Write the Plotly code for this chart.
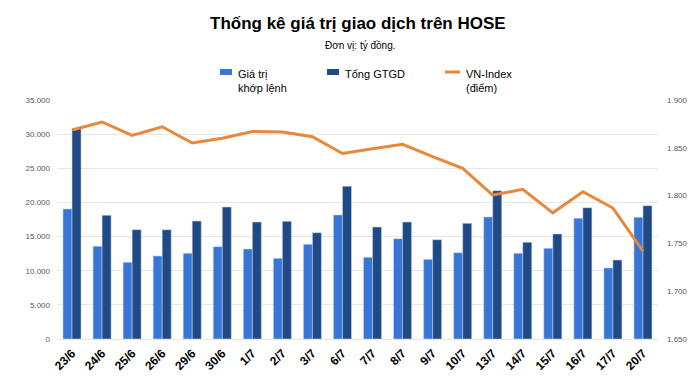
import plotly.graph_objects as go

dates = ["23/6", "24/6", "25/6", "26/6", "29/6", "30/6", "1/7", "2/7", "3/7", "6/7",
         "7/7", "8/7", "9/7", "10/7", "13/7", "14/7", "15/7", "16/7", "17/7", "20/7"]
gia_tri_khop_lenh = [19040, 13580, 11230, 12160, 12550, 13520, 13180, 11810, 13860, 18160,
                     11960, 14690, 11670, 12640, 17870, 12550, 13280, 17670, 10400, 17820]
tong_gtgd = [30850, 18120, 16010, 16000, 17280, 19330, 17130, 17230, 15570, 22360,
             16400, 17130, 14540, 16940, 21720, 14160, 15380, 19230, 11570, 19520]
vn_index = [1868.6, 1877.0, 1863.0, 1872.0, 1855.0, 1860.0, 1867.0, 1866.5, 1861.6, 1844.0,
            1849.0, 1853.6, 1840.7, 1828.5, 1800.6, 1806.5, 1782.0, 1804.0, 1787.0, 1742.0]

left_ticks = [0, 5000, 10000, 15000, 20000, 25000, 30000, 35000]
right_ticks = [1650, 1700, 1750, 1800, 1850, 1900]

LIGHT = "#3775D6"
DARK = "#1F4A85"
ORANGE = "#E8883A"
FONT = "Liberation Sans"

W, H = 700, 386
L, R, T, B = 57, 42, 100, 47
PW, PH = W - L - R, H - T - B


def px_x(x):
    return (x - L) / PW


def px_y(y):
    return (H - B - y) / PH


fig = go.Figure()
fig.add_trace(go.Bar(x=dates, y=gia_tri_khop_lenh, name="Giá trị khớp lệnh",
                     marker=dict(color=LIGHT, line=dict(color="rgba(200,215,240,0.9)", width=0.6))))
fig.add_trace(go.Bar(x=dates, y=tong_gtgd, name="Tổng GTGD",
                     marker=dict(color=DARK, line=dict(color="rgba(200,215,240,0.9)", width=0.6))))
fig.add_trace(go.Scatter(x=dates, y=vn_index, name="VN-Index (điểm)", yaxis="y2",
                         mode="lines", line=dict(color=ORANGE, width=3)))

annotations = [
    dict(text="<b>Thống kê giá trị giao dịch trên HOSE</b>", x=0.5, xref="paper",
         y=px_y(23), yref="paper", showarrow=False, xanchor="center", yanchor="middle",
         font=dict(family=FONT, size=17, color="#000000")),
    dict(text="Đơn vị: tỷ đồng.", x=px_x(360), xref="paper",
         y=px_y(45), yref="paper", showarrow=False, xanchor="center", yanchor="middle",
         font=dict(family=FONT, size=10, color="#000000")),
]
shapes = []
legend_items = [
    (220, 232, "rect", LIGHT, "Giá trị<br>khớp lệnh"),
    (327, 339, "rect", DARK, "Tổng GTGD"),
    (445, 460, "line", ORANGE, "VN-Index<br>(điểm)"),
]
for x0, x1, kind, col, label in legend_items:
    if kind == "rect":
        shapes.append(dict(type="rect", xref="paper", yref="paper",
                           x0=px_x(x0), x1=px_x(x1), y0=px_y(75), y1=px_y(69),
                           fillcolor=col, line=dict(width=0)))
    else:
        shapes.append(dict(type="line", xref="paper", yref="paper",
                           x0=px_x(x0), x1=px_x(x1), y0=px_y(72), y1=px_y(72),
                           line=dict(color=col, width=3)))
    annotations.append(dict(text=label, x=px_x(x1 + 4), xref="paper", y=px_y(66), yref="paper",
                            showarrow=False, xanchor="left", yanchor="top", align="left",
                            font=dict(family=FONT, size=11, color="#000000")))

fig.update_layout(
    width=W, height=H,
    margin=dict(l=L, r=R, t=T, b=B, pad=0),
    paper_bgcolor="white", plot_bgcolor="white",
    separators=",.",
    barmode="group", bargap=0.4, bargroupgap=0,
    showlegend=False,
    font=dict(family=FONT),
    xaxis=dict(type="category", tickangle=-45, showgrid=False, showline=False, ticks="",
               ticklabelstandoff=4,
               tickfont=dict(family=FONT, size=12, color="#000000", weight="bold")),
    yaxis=dict(range=[0, 35000], tickvals=left_ticks, tickformat=",d",
               showgrid=True, gridcolor="#E6E6E6", gridwidth=1, zeroline=True,
               zerolinecolor="#E6E6E6", zerolinewidth=1, showline=False, ticks="",
               ticklabelstandoff=6,
               tickfont=dict(family=FONT, size=8, color="#595959")),
    yaxis2=dict(range=[1650, 1900], tickvals=right_ticks, tickformat=",d",
                overlaying="y", side="right", showgrid=False, zeroline=False,
                showline=False, ticks="", ticklabelstandoff=8,
                tickfont=dict(family=FONT, size=8, color="#595959")),
    annotations=annotations,
    shapes=shapes,
)

fig.write_html("out.html")
